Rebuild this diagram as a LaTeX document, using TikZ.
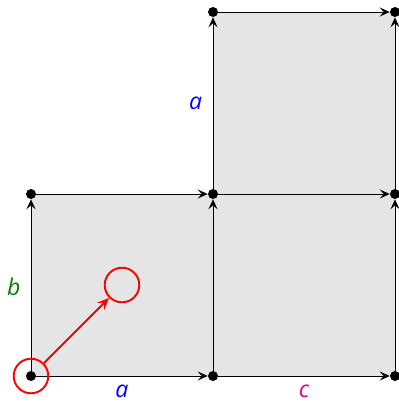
\documentclass[tikz,border=0pt]{standalone}
\usepackage{fontspec}
\setmainfont{Open Sans}
\usetikzlibrary{arrows.meta, calc, positioning}

\definecolor{labpink}{RGB}{230,0,130}
\definecolor{labgreen}{RGB}{0,128,0}

\tikzset{
    pt/.style={circle, fill=black, inner sep=0pt, minimum size=0.22cm},
    edge/.style={-{Stealth[length=2.2mm, width=2mm, inset=0.9mm]}, line width=0.6pt},
    lab/.style={font=\Large\itshape, inner sep=0pt},
    mark circ/.style={circle, draw=red, line width=1.2pt, minimum size=0.76cm, inner sep=0pt}
}

\begin{document}
\begin{tikzpicture}
    \useasboundingbox (-0.681,-0.571) rectangle (8.088,8.264);

    % Shaded squares
    \fill[gray!20] (0,0) rectangle (4,4);
    \fill[gray!20] (4,0) rectangle (8,4);
    \fill[gray!20] (4,4) rectangle (8,8);

    % Define the points
    \node[pt] (A) at (0,0) {};
    \node[pt] (B) at (4,0) {};
    \node[pt] (C) at (8,0) {};
    \node[pt] (D) at (0,4) {};
    \node[pt] (E) at (4,4) {};
    \node[pt] (F) at (8,4) {};
    \node[pt] (G) at (4,8) {};
    \node[pt] (H) at (8,8) {};

    % Horizontal edges
    \draw[edge] (A) -- (B);
    \draw[edge] (B) -- (C);
    \draw[edge] (D) -- (E);
    \draw[edge] (E) -- (F);
    \draw[edge] (G) -- (H);

    % Vertical edges
    \draw[edge] (A) -- (D);
    \draw[edge] (B) -- (E);
    \draw[edge] (C) -- (F);
    \draw[edge] (E) -- (G);
    \draw[edge] (F) -- (H);

    % Labels
    \node[lab, text=blue] (la1) at (2,-0.34) {a};
    \node[lab, text=labpink] (lc) at (6,-0.34) {c};
    \node[lab, text=labgreen] (lb) at (-0.38,1.95) {b};
    \node[lab, text=blue] (la2) at (3.62,6.0) {a};

    % Red marker
    \node[mark circ] (start) at (0,0) {};
    \node[mark circ] (goal) at (2,2) {};
    \draw[-{Stealth[length=2.6mm, width=2.2mm, inset=1mm]}, red, line width=1.2pt] (start) -- (goal);
\end{tikzpicture}
\end{document}
